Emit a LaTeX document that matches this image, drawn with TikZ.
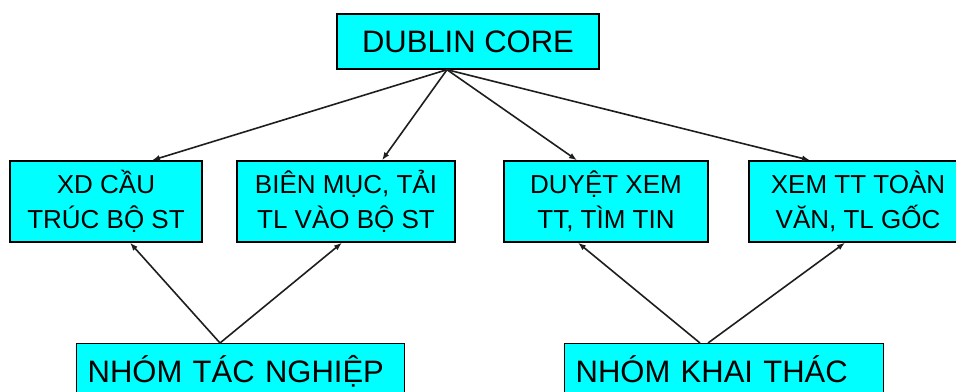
\documentclass[tikz,border=0pt]{standalone}
\usepackage{fontspec}
\setmainfont{Liberation Sans}
\usetikzlibrary{calc,arrows.meta}
\definecolor{boxcyan}{RGB}{0,255,255}
\definecolor{lineg}{RGB}{30,30,30}
\tikzset{
  box/.style={draw=black, line width=1.4pt, fill=boxcyan, rectangle, inner sep=0pt},
  toptext/.style={font=\fontsize{31}{36}\selectfont},
  midtext/.style={font=\fontsize{26}{35}\selectfont, align=center},
  bottext/.style={font=\fontsize{31}{36}\selectfont, align=left, anchor=north west,
     inner xsep=11pt, inner ysep=16pt, text height=23pt, text depth=30pt},
  conn/.style={draw=lineg, line width=1.6pt, -{Latex[length=8pt,width=6pt]}}
}
\begin{document}
\begin{tikzpicture}[x=1pt,y=-1pt]
\useasboundingbox (0,0) rectangle (956,391);
\clip (0,0) rectangle (956,391);
\node[box, toptext, minimum width=262pt, minimum height=55pt] (dc) at (468,41.5) {DUBLIN CORE};
\node[box, midtext, minimum width=192pt, minimum height=81pt] (b1) at (106,201.5) {XD CẦU\\TRÚC BỘ ST};
\node[box, midtext, minimum width=218pt, minimum height=81pt] (b2) at (346,201.5) {BIÊN MỤC, TẢI\\TL VÀO BỘ ST};
\node[box, midtext, minimum width=204pt, minimum height=81pt] (b3) at (606,201.5) {DUYỆT XEM\\TT, TÌM TIN};
\node[box, midtext, minimum width=218pt, minimum height=81pt] (b4) at (858,201.5) {XEM TT TOÀN\\VĂN, TL GỐC};
\node[box, bottext, minimum width=328pt, text width=306pt] (tn) at (76,343) {NHÓM TÁC NGHIỆP};
\node[box, bottext, minimum width=319pt, text width=297pt] (kt) at (564,343) {NHÓM KHAI THÁC};
\coordinate (dcs) at ($(dc.south)+(-21,0)$);
\draw[conn] (dcs) -- ($(b1.north)+(46,0)$);
\draw[conn] (dcs) -- ($(b2.north)+(36,0)$);
\draw[conn] (dcs) -- ($(b3.north)+(-29,0)$);
\draw[conn] (dcs) -- ($(b4.north)+(-48,0)$);
\coordinate (tns) at ($(tn.north west)+(144,0)$);
\draw[conn] (tns) -- ($(b1.south)+(24,0)$);
\draw[conn] (tns) -- ($(b2.south)+(-4,0)$);
\draw[conn] ($(kt.north west)+(136,0)$) -- ($(b3.south)+(-28,0)$);
\draw[conn] ($(kt.north west)+(144,0)$) -- ($(b4.south)+(-13,0)$);
\end{tikzpicture}
\end{document}
